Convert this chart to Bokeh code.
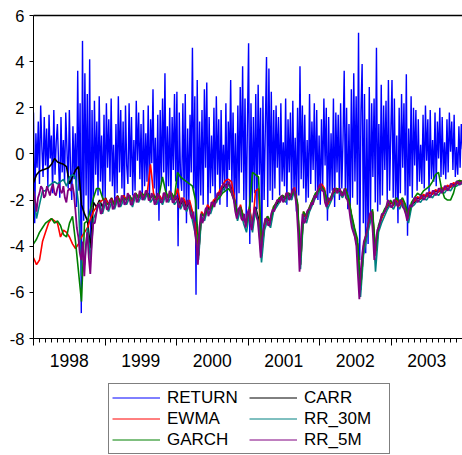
import numpy as np
from bokeh.plotting import figure
from bokeh.layouts import column
from bokeh.models import Range1d, FixedTicker, LinearAxis, Legend, LegendItem
from bokeh.embed import file_html
from bokeh.resources import INLINE

# ---------------- data ----------------
year_labels = ["1998", "1999", "2000", "2001", "2002", "2003"]
y_tick_values = [-8, -6, -4, -2, 0, 2, 4, 6]
series_names = ["RETURN", "CARR", "EWMA", "RR_30M", "GARCH", "RR_5M"]
series_colors = ["#0000FF", "#000000", "#FF0000", "#008080", "#008000", "#800080"]

# RETURN: five readings per month, Jan 1998 .. Dec 2003
return_values = [
    1.8, -3.0, 0.9, -0.6, 1.4,    -1.3, 2.1, 0.3, -1.0, 1.6,    -0.5, 1.1, -1.4, 1.7, -0.2,
    0.8, -1.7, 1.9, -0.9, 0.5,    1.3, -0.4, -1.9, 1.6, -0.8,   0.6, -1.2, 1.8, 0.2, -1.5,
    1.9, -0.7, -2.0, 1.2, -1.1,   0.9, -2.3, 3.6, -1.6, 2.2,    -6.9, 4.9, -2.9, 3.5, -1.8,
    2.6, -3.2, 4.1, -4.0, 1.9,    -2.3, 2.3, -0.9, 1.4, -1.8,   2.5, -1.2, 0.8, -2.0, 1.7,
    -1.9, 2.2, -0.6, 1.5, -1.2,   2.4, -1.4, 0.4, -2.1, 1.3,    -1.7, 2.5, -0.8, 1.9, -1.5,
    1.4, -2.2, 2.1, -0.5, -1.3,   2.2, -1.0, 1.6, -1.8, 0.6,    -1.6, 2.3, -0.3, 1.8, -1.1,
    1.3, -2.0, 1.9, -1.4, 0.9,    -1.2, 2.1, -1.9, 1.5, -0.4,   2.8, -1.5, 0.7, -2.2, 1.7,
    -2.9, 1.9, -1.3, 2.4, -0.8,   3.5, -1.8, 1.2, -1.4, 2.0,    -2.0, 1.6, -0.7, 2.6, -1.2,
    2.7, -4.0, 1.8, -0.9, -1.6,   2.2, -1.9, 2.6, -3.0, 1.1,    -2.1, 1.7, -0.8, 4.6, -1.5,
    2.5, -6.1, 3.2, -2.4, 1.4,    -1.8, 1.9, -2.2, 2.8, -0.6,   3.1, -2.5, 1.6, -1.7, 0.8,
    -1.4, 2.0, -2.0, 2.5, -0.9,   1.5, -2.2, 1.9, -1.3, 0.4,    -1.6, 2.2, -2.3, 1.4, -0.7,
    3.2, -1.5, 1.8, -2.1, 0.9,    -2.6, 2.1, -1.7, 2.9, -0.8,   3.8, -2.0, 2.4, -2.8, 1.2,
    4.8, -3.9, 2.2, -2.1, 1.6,    -1.7, 2.6, -2.4, 3.0, -0.9,   2.0, -4.4, 2.5, -2.0, 1.1,
    4.2, -2.3, 3.7, -1.6, 2.7,    -2.0, 1.9, -1.5, 2.1, -0.6,   1.6, -1.8, 2.2, -1.2, 0.5,
    -1.4, 2.4, -2.2, 1.5, -0.8,   1.8, -2.0, 2.3, -1.6, 0.7,    -2.5, 2.0, -1.8, 3.8, -1.1,
    2.1, -1.5, 1.7, -2.1, 0.6,    -1.9, 2.6, -1.3, 1.4, -0.7,   2.2, -1.6, 1.9, -2.0, 0.8,
    -2.2, 1.5, -1.4, 2.4, -0.5,   2.0, -2.9, 1.6, -1.7, 0.9,    -1.6, 2.4, -2.3, 1.8, -0.8,
    1.7, -2.0, 2.2, -1.5, 0.6,    3.6, -1.8, 2.0, -2.4, 1.3,    -2.5, 2.8, -1.9, 3.5, -1.2,
    2.5, -2.2, 5.25, -4.6, 1.8,   3.9, -3.0, 2.6, -4.3, 1.5,    -3.9, 2.9, -2.6, 2.2, -1.0,
    2.4, -2.1, 4.6, -2.5, 1.3,    -2.2, 3.0, -1.8, 2.1, -0.7,   2.3, -2.0, 3.2, -1.6, 0.9,
    3.2, -1.9, 2.4, -2.2, 0.8,    -3.0, 2.0, -1.7, 2.6, -0.6,   2.2, -1.8, 3.45, -3.55, 1.1,
    -1.4, 2.5, -1.9, 2.0, -0.5,   1.9, -1.6, 1.5, -1.2, 0.4,    -1.3, 1.7, -1.5, 2.1, -0.3,
    1.5, -1.7, 1.9, -1.1, 0.6,    -1.2, 1.8, -1.4, 1.4, -0.2,   2.0, -1.0, 1.6, -0.9, 0.5,
    -1.1, 1.5, -0.8, 1.8, 0.1,    1.4, -0.7, 1.7, -1.0, 0.3,    -0.9, 1.2, -0.6, 1.3, 0.2,
]

# volatility series: two readings per month, Jan 1998 .. Dec 2003
carr = [
    -1.25, -0.9, -0.75, -0.7, -0.65, -0.6, -0.45, -0.2, -0.35, -0.4,
    -0.45, -0.55, -1.3, -1.0, -0.7, -0.55, -2.2, -2.6, -2.9, -4.1,
    -2.1, -2.3, -2.0, -2.3, -1.9, -2.2, -1.9, -2.2, -1.8, -2.1,
    -1.8, -2.0, -1.8, -2.1, -1.7, -1.9, -1.8, -1.9, -1.7, -1.9,
    -1.8, -2.0, -1.9, -2.0, -1.8, -1.9, -1.8, -2.0, -1.9, -2.2,
    -2.0, -2.3, -2.1, -2.6, -3.2, -4.4, -2.6, -2.7, -2.3, -2.4,
    -2.1, -1.9, -1.7, -1.5, -1.35, -1.3, -1.5, -2.0, -2.6, -2.3,
    -2.7, -3.0, -2.4, -3.1, -2.3, -2.8, -4.2, -3.1, -2.8, -3.0,
    -2.4, -2.2, -2.0, -1.85, -1.95, -1.75, -1.85, -1.6, -2.2, -4.8,
    -2.6, -2.8, -2.4, -2.1, -1.8, -1.65, -1.4, -1.6, -2.2, -2.0,
    -1.7, -1.55, -1.6, -1.8, -1.55, -1.95, -2.7, -3.3, -3.9, -5.9,
    -4.2, -3.5, -2.9, -2.5, -4.4, -3.2, -2.8, -2.5, -2.3, -2.1,
    -2.2, -2.0, -2.2, -2.0, -2.3, -2.8, -2.2, -2.1, -1.9, -1.95,
    -1.8, -1.85, -1.7, -1.75, -1.6, -1.65, -1.5, -1.55, -1.4, -1.45,
    -1.3, -1.3, -1.2, -1.2,
]
ewma = [
    -4.5, -4.8, -4.6, -3.8, -3.4, -3.0, -2.8, -2.9, -3.0, -3.6,
    -3.3, -3.4, -3.6, -3.9, -4.1, -3.9, -3.6, -3.4, -3.2, -2.8,
    -2.5, -2.3, -2.1, -2.0, -1.95, -2.2, -1.95, -2.2, -1.85, -2.1,
    -1.8, -2.0, -1.8, -2.1, -1.7, -1.9, -1.7, -1.9, -1.6, -0.45,
    -1.7, -2.0, -1.8, -2.0, -1.7, -1.9, -1.7, -2.0, -1.5, -2.1,
    -1.9, -2.2, -2.0, -2.5, -3.1, -4.4, -2.5, -2.7, -2.2, -2.4,
    -2.0, -1.9, -1.6, -1.35, -1.15, -1.1, -1.2, -1.9, -2.7, -2.2,
    -2.8, -3.1, -2.3, -3.2, -1.6, -1.5, -4.4, -3.1, -2.7, -3.0,
    -2.3, -2.1, -1.9, -1.8, -1.9, -1.7, -1.8, -1.45, -2.2, -4.8,
    -2.5, -2.8, -2.3, -2.0, -1.75, -1.55, -1.3, -1.5, -2.2, -1.95,
    -1.65, -1.5, -1.55, -1.75, -1.5, -1.95, -2.7, -3.3, -3.9, -5.9,
    -4.2, -3.5, -2.9, -2.5, -4.4, -3.2, -2.8, -2.5, -2.25, -2.05,
    -2.25, -1.95, -2.25, -1.95, -2.35, -2.8, -2.15, -2.05, -1.85, -1.95,
    -1.75, -1.85, -1.65, -1.75, -1.55, -1.65, -1.45, -1.55, -1.35, -1.45,
    -1.25, -1.3, -1.15, -1.2,
]
rr_30m = [
    -1.6, -2.8, -2.2, -1.6, -1.6, -1.4, -1.3, -1.2, -1.3, -1.2,
    -1.1, -1.4, -1.0, -0.9, -1.0, -2.2, -5.3, -4.8, -3.2, -4.6,
    -2.8, -2.5, -2.1, -2.6, -2.1, -2.5, -2.1, -2.4, -2.0, -2.3,
    -2.0, -2.2, -1.9, -2.3, -1.8, -2.1, -1.8, -2.0, -1.7, -2.1,
    -1.9, -2.2, -1.9, -2.2, -1.8, -2.1, -1.8, -2.2, -2.0, -2.4,
    -2.1, -2.5, -2.2, -2.9, -3.5, -4.6, -2.7, -2.9, -2.4, -2.6,
    -2.2, -2.1, -1.8, -1.6, -1.4, -1.35, -1.6, -2.1, -2.9, -2.4,
    -3.0, -3.4, -2.5, -3.4, -2.4, -3.0, -4.7, -3.3, -2.9, -3.2,
    -2.5, -2.3, -2.1, -1.9, -2.1, -1.8, -2.0, -1.6, -2.4, -5.0,
    -2.7, -3.0, -2.5, -2.2, -1.9, -1.7, -1.4, -1.7, -2.4, -2.1,
    -1.8, -1.6, -1.7, -1.9, -1.6, -2.1, -2.9, -3.5, -4.1, -6.2,
    -4.4, -3.7, -3.1, -2.6, -5.1, -3.4, -3.0, -2.7, -2.4, -2.2,
    -2.4, -2.1, -2.4, -2.1, -2.5, -3.0, -2.3, -2.2, -2.0, -2.1,
    -1.9, -2.0, -1.8, -1.9, -1.7, -1.8, -1.6, -1.7, -1.5, -1.6,
    -1.4, -1.4, -1.3, -1.3,
]
garch = [
    -3.9, -3.7, -3.4, -3.2, -3.0, -2.9, -2.8, -3.0, -2.9, -3.1,
    -3.5, -3.6, -3.0, -2.7, -3.8, -5.1, -6.4, -3.0, -2.9, -2.4,
    -1.9, -1.5, -1.5, -1.9, -2.1, -2.2, -2.0, -2.2, -1.9, -2.1,
    -1.9, -2.0, -1.8, -2.0, -1.7, -1.9, -1.7, -1.8, -1.7, -1.9,
    -1.8, -1.9, -1.7, -1.0, -1.6, -1.9, -1.7, -1.9, -0.8, -1.0,
    -1.1, -1.2, -1.3, -1.4, -2.0, -3.9, -2.6, -2.7, -2.4, -2.4,
    -2.2, -2.0, -1.9, -1.7, -1.6, -1.5, -1.7, -2.0, -2.6, -2.3,
    -2.8, -3.0, -2.3, -0.8, -0.9, -1.0, -3.8, -3.0, -2.7, -2.9,
    -2.3, -2.1, -1.9, -1.8, -1.9, -1.7, -1.8, -1.6, -2.1, -4.5,
    -2.5, -2.7, -2.3, -2.0, -1.7, -1.6, -1.4, -1.6, -2.1, -1.9,
    -1.6, -1.5, -1.55, -1.7, -1.5, -1.9, -2.6, -3.2, -3.7, -5.7,
    -4.0, -3.4, -2.8, -2.4, -4.2, -3.1, -2.7, -2.4, -2.2, -2.0,
    -2.2, -1.9, -2.1, -1.9, -2.2, -2.7, -2.1, -1.9, -1.7, -1.8,
    -1.6, -1.5, -1.4, -1.2, -0.9, -0.8, -1.5, -1.9, -2.0, -2.0,
    -1.7, -1.2, -1.15, -1.2,
]
# RR_5M: four readings per month
rr_5m = [
    -1.6, -2.0, -2.5, -1.9, -1.7, -1.4, -1.5, -1.9, -1.8, -1.4, -1.6, -1.8,
    -1.5, -1.3, -1.7, -1.8, -1.5, -1.3, -1.6, -1.7, -1.4, -1.9, -2.1, -1.6,
    -1.5, -1.6, -1.3, -1.7, -2.4, -3.2, -3.6, -4.3, -4.6, -3.8, -5.3, -4.0,
    -3.4, -4.5, -5.2, -3.9, -3.0, -3.0, -2.6, -2.2, -2.2, -2.6, -2.5, -2.1,
    -2.0, -2.4, -2.4, -2.0, -2.0, -2.4, -2.3, -1.9, -1.9, -2.3, -2.2, -1.8,
    -1.9, -2.2, -2.1, -1.7, -1.8, -2.2, -2.2, -1.8, -1.7, -2.1, -2.0, -1.6,
    -1.7, -2.0, -1.9, -1.6, -1.6, -2.0, -2.0, -1.7, -1.8, -2.2, -2.1, -1.7,
    -1.8, -2.1, -2.1, -1.7, -1.7, -2.1, -2.0, -1.6, -1.7, -2.1, -2.1, -1.8,
    -1.9, -2.3, -2.3, -1.9, -2.0, -2.4, -2.4, -2.0, -2.1, -2.6, -2.8, -2.5,
    -3.4, -3.9, -4.8, -3.2, -2.6, -3.0, -2.8, -2.4, -2.3, -2.7, -2.5, -2.1,
    -2.1, -2.3, -2.0, -1.7, -1.7, -1.8, -1.5, -1.3, -1.3, -1.5, -1.25, -1.2,
    -1.5, -1.8, -2.0, -2.5, -2.8, -2.4, -2.3, -2.8, -2.9, -2.6, -3.2, -2.6,
    -2.4, -3.0, -3.3, -2.7, -2.3, -2.7, -2.9, -3.6, -4.5, -3.6, -3.2, -2.8,
    -2.8, -3.1, -3.1, -2.6, -2.4, -2.5, -2.2, -2.0, -2.0, -2.1, -1.8, -2.1,
    -2.0, -1.7, -1.7, -2.0, -1.9, -1.6, -1.5, -1.8, -2.3, -3.4, -5.1, -3.5,
    -2.6, -3.0, -2.9, -2.5, -2.4, -2.4, -2.1, -2.2, -1.8, -1.9, -1.6, -1.4,
    -1.3, -1.6, -1.6, -2.1, -2.3, -1.9, -2.0, -2.0, -1.7, -1.5, -1.5, -1.7,
    -1.6, -1.5, -1.8, -1.8, -1.5, -1.9, -2.0, -2.3, -2.8, -3.2, -3.4, -3.6,
    -4.0, -5.2, -6.3, -5.0, -4.3, -3.8, -3.6, -3.4, -3.0, -2.6, -2.5, -3.4,
    -4.6, -3.8, -3.3, -3.2, -2.9, -2.6, -2.6, -2.5, -2.3, -2.0, -2.1, -2.3,
    -2.3, -2.0, -2.0, -2.2, -2.3, -2.0, -2.0, -2.3, -2.4, -2.6, -2.9, -2.4,
    -2.2, -2.3, -2.1, -1.9, -1.9, -2.1, -2.0, -1.8, -1.8, -2.0, -1.9, -1.7,
    -1.7, -1.9, -1.8, -1.6, -1.6, -1.8, -1.7, -1.5, -1.5, -1.7, -1.6, -1.4,
    -1.4, -1.6, -1.5, -1.3, -1.3, -1.4, -1.35, -1.2, -1.2, -1.35, -1.25, -1.2,
]

first_year = int(year_labels[0])
last_year = int(year_labels[-1]) + 1
t_return = np.linspace(first_year, last_year, len(return_values))
t_vol = np.linspace(first_year, last_year, len(carr))
t_rr5 = np.linspace(first_year, last_year, len(rr_5m))

# ---------------- main figure ----------------
FONT = "Liberation Sans"
p = figure(width=462, height=380, output_backend="svg", toolbar_location=None,
           x_range=Range1d(first_year, last_year), y_range=Range1d(-8, 6),
           x_axis_type=None, min_border_left=33, min_border_right=0,
           min_border_top=15, min_border_bottom=42)
p.grid.visible = False
p.outline_line_color = None
p.background_fill_color = "white"
p.border_fill_color = "white"

# y axis
p.yaxis.ticker = FixedTicker(ticks=y_tick_values, minor_ticks=[])
p.yaxis.major_label_overrides = {v: str(v) for v in y_tick_values}
p.yaxis.major_tick_out = 4
p.yaxis.major_tick_in = 0
p.yaxis.minor_tick_line_color = None
p.yaxis.major_label_standoff = 5
p.yaxis.major_label_text_font = FONT
p.yaxis.major_label_text_font_size = "16.5px"
p.yaxis.major_label_text_color = "black"
p.yaxis.axis_line_color = "black"

# top frame line (no right border in the reference)
top_axis = LinearAxis(ticker=FixedTicker(ticks=[], minor_ticks=[]),
                      axis_line_color="black", axis_line_width=1.5,
                      major_tick_line_color=None, minor_tick_line_color=None,
                      major_tick_out=0, major_label_standoff=0)
p.add_layout(top_axis, "above")

# x axis: ticks at year boundaries, minor ticks monthly (labels drawn by a second axis)
year_bounds = list(range(first_year, last_year + 1))
month_bounds = [first_year + i / 12 for i in range(12 * (last_year - first_year) + 1)]
xa_ticks = LinearAxis(ticker=FixedTicker(ticks=year_bounds, minor_ticks=month_bounds),
                      major_label_overrides={y: "" for y in year_bounds},
                      major_label_standoff=0,
                      major_tick_out=7, major_tick_in=0, minor_tick_out=4, minor_tick_in=0,
                      axis_line_color="black", major_tick_line_color="black",
                      minor_tick_line_color="black")
p.add_layout(xa_ticks, "below")

mid_years = [first_year + i + 0.5 for i in range(len(year_labels))]
xa_labels = LinearAxis(ticker=FixedTicker(ticks=mid_years, minor_ticks=[]),
                       major_label_overrides={m: lab for m, lab in zip(mid_years, year_labels)},
                       axis_line_color=None, major_tick_line_color=None,
                       minor_tick_line_color=None, major_tick_out=0, major_tick_in=0,
                       major_label_standoff=8, major_label_text_font=FONT,
                       major_label_text_font_size="17.5px", major_label_text_color="black")
p.add_layout(xa_labels, "below")

# lines
series = {
    "RETURN": (t_return, return_values, 1.4),
    "CARR": (t_vol, carr, 1.6),
    "EWMA": (t_vol, ewma, 1.6),
    "RR_30M": (t_vol, rr_30m, 1.6),
    "GARCH": (t_vol, garch, 1.6),
    "RR_5M": (t_rr5, rr_5m, 1.8),
}
for name, color in zip(series_names, series_colors):
    xs, ys, lw = series[name]
    p.line(xs, ys, line_color=color, line_width=lw)

# ---------------- legend panel ----------------
q = figure(width=462, height=75, output_backend="svg", toolbar_location=None,
           x_axis_type=None, y_axis_type=None, min_border=0)
q.outline_line_color = None
q.grid.visible = False
q.background_fill_color = "white"
q.border_fill_color = "white"
keys = {}
for name, color in zip(series_names, series_colors):
    xs, ys, _ = series[name]
    # a single point: nothing is drawn in the panel, it only feeds the legend key
    keys[name] = q.line(x=[xs[0]], y=[ys[0]], line_color=color, line_width=1)

legend = Legend(items=[LegendItem(label=n, renderers=[keys[n]]) for n in series_names],
                location=(75, 1), orientation="horizontal", ncols=2,
                border_line_color="black", border_line_width=1,
                background_fill_color="white", background_fill_alpha=1,
                padding=3, spacing=0, glyph_width=48, glyph_height=21,
                label_height=21, label_width=82, label_standoff=7, label_text_font=FONT,
                label_text_font_size="17px", label_text_color="black",
                margin=0)
q.add_layout(legend, "center")

open("out.html", "w").write(file_html(column(p, q, spacing=0), INLINE))
